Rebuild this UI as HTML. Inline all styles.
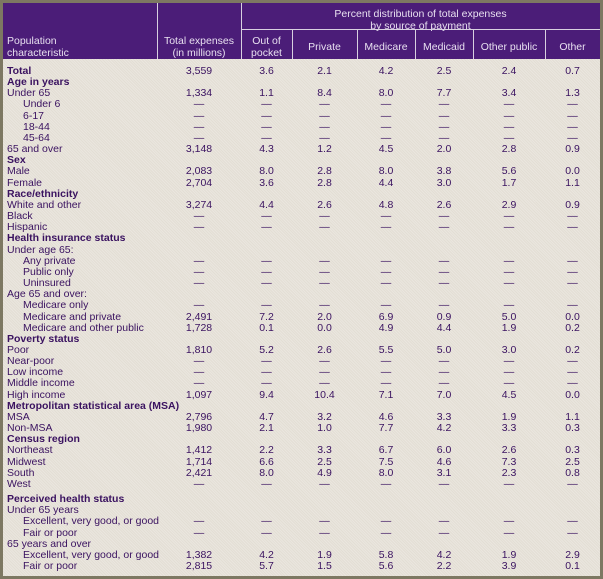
<!DOCTYPE html>
<html><head><meta charset="utf-8"><style>
body{margin:0;width:603px;height:579px;background:#7d7862;font-family:"Liberation Sans",sans-serif;overflow:hidden}
#frame{position:absolute;left:3px;top:3px;width:597px;height:573px;background:#e3ded4;
background-image:repeating-linear-gradient(45deg,rgba(255,255,255,.25) 0 1px,transparent 1px 2px)}
#head{position:absolute;left:0;top:0;width:597px;height:56px;background:#4b1d78;color:#e8e0f0;font-size:10.5px}
.h{position:absolute;text-align:center;line-height:12px}
.vl{position:absolute;width:1px;background:#d8d0e0}
.r{position:absolute;left:0;width:597px;height:11px;font-size:10.5px;line-height:11px;color:#3a1260}
.r span{position:absolute;top:0}
.c{text-align:center}
.b{font-weight:bold}
</style></head><body>
<div id="frame">
<div id="head">
<div class="h" style="left:4px;top:32px;text-align:left">Population<br>characteristic</div>
<div class="h" style="left:154px;width:84px;top:32px">Total expenses<br>(in millions)</div>
<div class="h" style="left:238px;width:359px;top:5px">Percent distribution of total expenses<br>by source of payment</div>
<div class="h" style="left:238px;width:51px;top:32px">Out of<br>pocket</div>
<div class="h" style="left:289px;width:65px;top:38px">Private</div>
<div class="h" style="left:354px;width:58px;top:38px">Medicare</div>
<div class="h" style="left:412px;width:58px;top:38px">Medicaid</div>
<div class="h" style="left:470px;width:72px;top:38px">Other public</div>
<div class="h" style="left:542px;width:55px;top:38px">Other</div>
<div class="vl" style="left:154px;top:0;height:56px"></div>
<div class="vl" style="left:238px;top:0;height:56px"></div>
<div style="position:absolute;left:238px;top:26px;width:359px;height:1px;background:#d8d0e0"></div>
<div class="vl" style="left:289px;top:26px;height:30px"></div>
<div class="vl" style="left:354px;top:26px;height:30px"></div>
<div class="vl" style="left:412px;top:26px;height:30px"></div>
<div class="vl" style="left:470px;top:26px;height:30px"></div>
<div class="vl" style="left:542px;top:26px;height:30px"></div>
</div>
<div id="body"></div>
</div>
<script>
const D='—';
const rows=[
["Total",0,1,["3,559","3.6","2.1","4.2","2.5","2.4","0.7"]],
["Age in years",0,1,null],
["Under 65",0,0,["1,334","1.1","8.4","8.0","7.7","3.4","1.3"]],
["Under 6",1,0,"d"],["6-17",1,0,"d"],["18-44",1,0,"d"],["45-64",1,0,"d"],
["65 and over",0,0,["3,148","4.3","1.2","4.5","2.0","2.8","0.9"]],
["Sex",0,1,null],
["Male",0,0,["2,083","8.0","2.8","8.0","3.8","5.6","0.0"]],
["Female",0,0,["2,704","3.6","2.8","4.4","3.0","1.7","1.1"]],
["Race/ethnicity",0,1,null],
["White and other",0,0,["3,274","4.4","2.6","4.8","2.6","2.9","0.9"]],
["Black",0,0,"d"],["Hispanic",0,0,"d"],
["Health insurance status",0,1,null],
["Under age 65:",0,0,null],
["Any private",1,0,"d"],["Public only",1,0,"d"],["Uninsured",1,0,"d"],
["Age 65 and over:",0,0,null],
["Medicare only",1,0,"d"],
["Medicare and private",1,0,["2,491","7.2","2.0","6.9","0.9","5.0","0.0"]],
["Medicare and other public",1,0,["1,728","0.1","0.0","4.9","4.4","1.9","0.2"]],
["Poverty status",0,1,null],
["Poor",0,0,["1,810","5.2","2.6","5.5","5.0","3.0","0.2"]],
["Near-poor",0,0,"d"],["Low income",0,0,"d"],["Middle income",0,0,"d"],
["High income",0,0,["1,097","9.4","10.4","7.1","7.0","4.5","0.0"]],
["Metropolitan statistical area (MSA)",0,1,null],
["MSA",0,0,["2,796","4.7","3.2","4.6","3.3","1.9","1.1"]],
["Non-MSA",0,0,["1,980","2.1","1.0","7.7","4.2","3.3","0.3"]],
["Census region",0,1,null],
["Northeast",0,0,["1,412","2.2","3.3","6.7","6.0","2.6","0.3"]],
["Midwest",0,0,["1,714","6.6","2.5","7.5","4.6","7.3","2.5"]],
["South",0,0,["2,421","8.0","4.9","8.0","3.1","2.3","0.8"]],
["West",0,0,"d"],
["Perceived health status",0,1,null,4],
["Under 65 years",0,0,null],
["Excellent, very good, or good",1,0,"d"],["Fair or poor",1,0,"d"],
["65 years and over",0,0,null],
["Excellent, very good, or good",1,0,["1,382","4.2","1.9","5.8","4.2","1.9","2.9"]],
["Fair or poor",1,0,["2,815","5.7","1.5","5.6","2.2","3.9","0.1"]]
];
const colL=[154,238,289,354,412,470,542], colW=[84,51,65,58,58,72,55];
const body=document.getElementById('body');
let y=63;
rows.forEach((r,i)=>{
 if(r[4]) y+=r[4];
 const d=document.createElement('div');
 d.className='r';d.style.top=Math.round(y)+'px';
 
 
 let h='<span class="'+(r[2]?'b':'')+'" style="left:'+(r[1]?20:4)+'px">'+r[0]+'</span>';
 if(r[3]){const v=r[3]==='d'?[D,D,D,D,D,D,D]:r[3];
  v.forEach((t,j)=>{h+='<span class="c" style="left:'+colL[j]+'px;width:'+colW[j]+'px">'+t+'</span>';});}
 d.innerHTML=h;body.appendChild(d);y+=11.16;
});
</script>
</body></html>
